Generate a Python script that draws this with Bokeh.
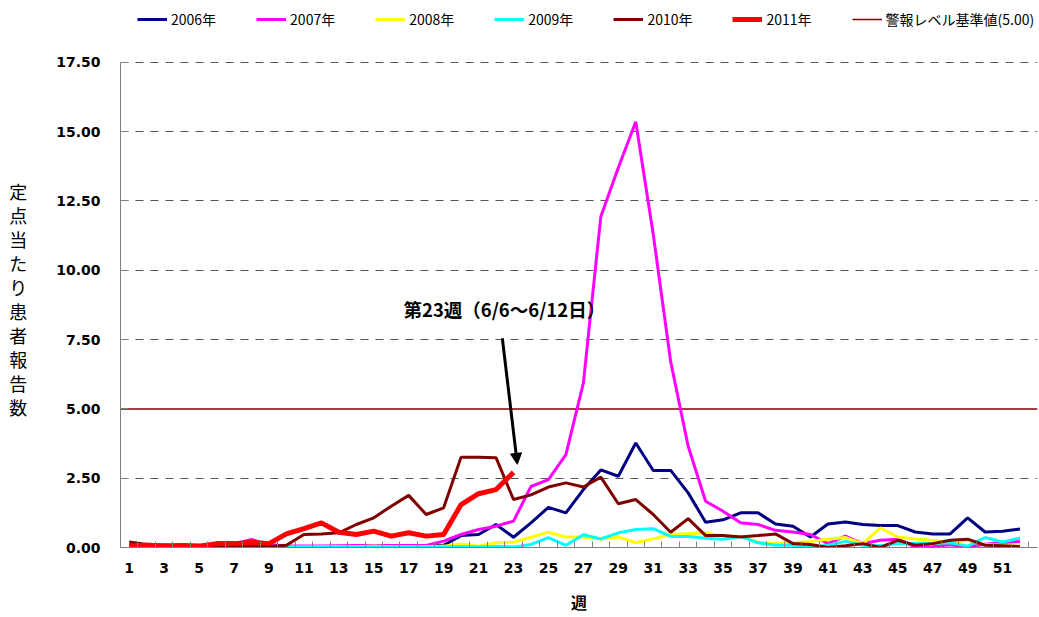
from bokeh.plotting import figure
from bokeh.models import (Range1d, FixedTicker, PrintfTickFormatter, Legend,
                          LegendItem, Label, Arrow, NormalHead)
from bokeh.embed import file_html
from bokeh.resources import INLINE

weeks = list(range(1, 53))

y2006 = [0.05, 0.05, 0.04, 0.04, 0.03, 0.03, 0.03, 0.04, 0.04, 0.03,
         0.03, 0.03, 0.03, 0.04, 0.04, 0.04, 0.05, 0.05, 0.08, 0.43,
         0.47, 0.83, 0.37, 0.89, 1.45, 1.25, 2.09, 2.80, 2.57, 3.77,
         2.78, 2.78, 1.97, 0.91, 1.00, 1.25, 1.25, 0.85, 0.77, 0.38,
         0.85, 0.92, 0.83, 0.79, 0.79, 0.56, 0.49, 0.49, 1.07, 0.56,
         0.59, 0.67]
y2007 = [0.08, 0.12, 0.10, 0.08, 0.08, 0.10, 0.12, 0.29, 0.10, 0.06,
         0.05, 0.05, 0.06, 0.07, 0.07, 0.07, 0.07, 0.07, 0.23, 0.47,
         0.65, 0.77, 0.95, 2.20, 2.45, 3.35, 5.93, 11.94, 13.70, 15.36,
         11.30, 6.70, 3.65, 1.67, 1.31, 0.89, 0.83, 0.62, 0.56, 0.47,
         0.14, 0.41, 0.14, 0.26, 0.30, 0.02, 0.03, 0.10, 0.02, 0.12,
         0.18, 0.22]
y2008 = [0.03, 0.03, 0.02, 0.03, 0.03, 0.02, 0.02, 0.03, 0.03, 0.02,
         0.02, 0.03, 0.03, 0.03, 0.05, 0.03, 0.03, 0.03, 0.05, 0.13,
         0.05, 0.17, 0.19, 0.37, 0.55, 0.38, 0.38, 0.31, 0.38, 0.17,
         0.31, 0.47, 0.50, 0.53, 0.41, 0.41, 0.19, 0.14, 0.17, 0.22,
         0.30, 0.36, 0.14, 0.71, 0.38, 0.31, 0.26, 0.17, 0.26, 0.11,
         0.08, 0.05]
y2009 = [0.02, 0.02, 0.02, 0.02, 0.02, 0.02, 0.02, 0.02, 0.02, 0.02,
         0.02, 0.02, 0.02, 0.02, 0.03, 0.02, 0.02, 0.02, 0.02, 0.04,
         0.02, 0.04, 0.02, 0.11, 0.36, 0.08, 0.46, 0.31, 0.53, 0.65,
         0.68, 0.40, 0.40, 0.33, 0.30, 0.40, 0.17, 0.08, 0.08, 0.01,
         0.08, 0.22, 0.08, 0.06, 0.14, 0.14, 0.14, 0.17, 0.05, 0.36,
         0.20, 0.34]
y2010 = [0.20, 0.11, 0.06, 0.05, 0.05, 0.05, 0.05, 0.08, 0.04, 0.08,
         0.47, 0.49, 0.53, 0.83, 1.07, 1.49, 1.88, 1.19, 1.43, 3.26,
         3.26, 3.24, 1.73, 1.90, 2.18, 2.33, 2.18, 2.54, 1.58, 1.73,
         1.19, 0.55, 1.04, 0.43, 0.43, 0.38, 0.43, 0.49, 0.14, 0.11,
         0.00, 0.06, 0.14, 0.00, 0.26, 0.08, 0.14, 0.26, 0.30, 0.08,
         0.06, 0.03]
y2011 = [0.05, 0.08, 0.05, 0.07, 0.05, 0.14, 0.14, 0.19, 0.14, 0.49,
         0.68, 0.89, 0.55, 0.47, 0.59, 0.41, 0.53, 0.41, 0.47, 1.55,
         1.94, 2.09, 2.71]
weeks2011 = weeks[:len(y2011)]

threshold = 5.00
threshold_label = "警報レベル基準値(5.00)"
x_start, x_end = 0.5, 53.0
y_ticks = [0, 2.5, 5, 7.5, 10, 12.5, 15, 17.5]
y_axis_max = 17.5
x_label_ticks = list(range(1, 53, 2))
x_minor_ticks = [w + 0.5 for w in range(0, 53)]

series_names = ["2006年", "2007年", "2008年", "2009年", "2010年"]
series_vals = [y2006, y2007, y2008, y2009, y2010]
series_cols = ["#000080", "#FF00FF", "#FFFF00", "#00FFFF", "#800000"]

note_text = "第23週（6/6～6/12日）"
ylabel_text = "定点当たり患者報告数"

# frame geometry: the plotting area spans 0..17.5 over 486 px; the frame is
# extended upwards so that the legend row can sit above the 17.5 line.
WIDTH, HEIGHT = 1039, 616
FRAME_TOP = 2
FRAME_BOTTOM = 548
FRAME_RIGHT = 1037
AXIS_TOP_PX = 62
y_top = y_axis_max * (FRAME_BOTTOM - FRAME_TOP) / (FRAME_BOTTOM - AXIS_TOP_PX)

p = figure(width=WIDTH, height=HEIGHT, output_backend="svg", toolbar_location=None,
           x_range=Range1d(x_start, x_end), y_range=Range1d(0, y_top),
           min_border_left=120, min_border_right=WIDTH - FRAME_RIGHT,
           min_border_top=FRAME_TOP, min_border_bottom=HEIGHT - FRAME_BOTTOM)
p.outline_line_color = None
p.background_fill_color = "white"
p.border_fill_color = "white"
p.title.visible = False

p.xgrid.grid_line_color = None
p.ygrid.ticker = FixedTicker(ticks=[t for t in y_ticks if t not in (0, threshold)])
p.ygrid.grid_line_color = "#555555"
p.ygrid.grid_line_dash = "8 7"
p.ygrid.grid_line_width = 1

p.yaxis.ticker = FixedTicker(ticks=y_ticks)
p.yaxis.bounds = (0, y_axis_max)
p.yaxis.formatter = PrintfTickFormatter(format="%.2f")
p.yaxis.major_tick_in = 8
p.yaxis.major_tick_out = 0
p.yaxis.minor_tick_line_color = None
p.yaxis.major_label_standoff = 20
p.yaxis.axis_line_color = "#808080"
p.yaxis.major_tick_line_color = "#808080"

yax = p.yaxis[0]
yax.axis_label = "\n".join(["\u3000", "\u3000"] + list(ylabel_text))
yax.axis_label_text_font = "Noto Sans CJK JP"
yax.axis_label_text_font_style = "normal"
yax.axis_label_text_font_size = "18px"
yax.axis_label_text_color = "black"
yax.axis_label_text_line_height = 0.92
yax.axis_label_standoff = 26
if "axis_label_orientation" in yax.properties():
    yax.axis_label_orientation = "horizontal"

p.xaxis.ticker = FixedTicker(ticks=x_label_ticks, minor_ticks=x_minor_ticks)
p.xaxis.major_tick_in = 0
p.xaxis.major_tick_out = 0
p.xaxis.minor_tick_in = 6
p.xaxis.minor_tick_out = 0
p.xaxis.minor_tick_line_color = "#808080"
p.xaxis.axis_line_color = "#808080"
p.xaxis.major_label_standoff = 15
p.xaxis.axis_label = "週"
p.xaxis.axis_label_text_font = "Noto Sans CJK JP"
p.xaxis.axis_label_text_font_style = "bold"
p.xaxis.axis_label_text_font_size = "16px"
p.xaxis.axis_label_text_color = "black"
p.xaxis.axis_label_standoff = 14

for ax in (p.xaxis, p.yaxis):
    ax.major_label_text_font = "DejaVu Sans"
    ax.major_label_text_font_style = "bold"
    ax.major_label_text_font_size = "14px"
    ax.major_label_text_color = "black"

# threshold (alert level) line across the whole axis
rth = p.line([x_start, x_end], [threshold, threshold], line_color="#800000",
             line_width=1.5)

items = []
for name, vals, col in zip(series_names, series_vals, series_cols):
    r = p.line(weeks, vals, line_color=col, line_width=3)
    items.append(LegendItem(label=name, renderers=[r]))
r11 = p.line(weeks2011, y2011, line_color="#FF0000", line_width=5)
items.append(LegendItem(label="2011年", renderers=[r11]))
items.append(LegendItem(label=threshold_label, renderers=[rth]))

legend = Legend(items=items, orientation="horizontal", location=(17, 518),
                glyph_width=30, glyph_height=14, label_standoff=4, spacing=40,
                padding=2, margin=0, border_line_color=None,
                background_fill_alpha=0, label_text_color="black",
                label_text_font="Noto Sans CJK JP", label_text_font_size="14px")
p.add_layout(legend, "center")

p.add_layout(Label(x=16.7, y=8.6, text=note_text, text_align="left",
                   text_baseline="middle", text_font="Noto Sans CJK JP",
                   text_font_style="bold", text_font_size="18.5px",
                   text_color="black"))
p.add_layout(Arrow(x_start=22.36, y_start=7.55, x_end=23.22, y_end=3.0,
                   line_width=3, line_color="black",
                   end=NormalHead(size=11, fill_color="black", line_color="black")))

open("out.html", "w").write(file_html(p, INLINE))
